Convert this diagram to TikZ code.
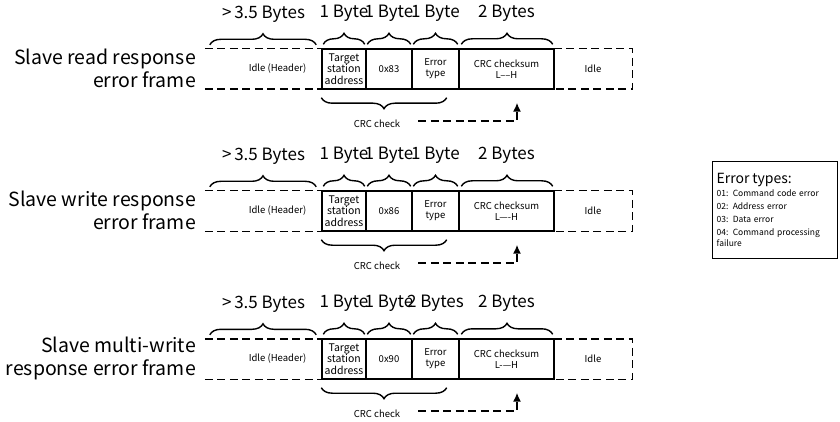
\documentclass[tikz,border=0pt]{standalone}
\usepackage{fontspec}
\setmainfont{Noto Sans CJK SC}
\usetikzlibrary{decorations.pathreplacing,arrows.meta}

\tikzset{
  field/.style={draw, line width=1.4pt, inner sep=0pt, minimum height=40pt,
    font=\fontsize{9.5}{11}\selectfont, align=center},
  idlefield/.style={inner sep=0pt, minimum height=40pt, font=\fontsize{9.5}{11}\selectfont},
  bytes/.style={font=\fontsize{17}{19}\selectfont, inner sep=0pt},
  frametitle/.style={font=\fontsize{19.5}{23}\selectfont, align=right, anchor=east, inner sep=0pt},
  topbrace/.style={decorate, decoration={brace, amplitude=11pt}, line width=1.4pt},
  crcbrace/.style={decorate, decoration={brace, amplitude=11pt}, line width=1.4pt},
  dashline/.style={line width=1.4pt, dash pattern=on 8pt off 4.5pt},
  arrowline/.style={line width=1.6pt, dash pattern=on 8pt off 4.5pt, -{Latex[length=9pt,width=8pt]}}
}

\begin{document}
\begin{tikzpicture}[x=1pt,y=-1pt]
\useasboundingbox (0,0) rectangle (840,422);

\foreach \T/\code/\errlen/\lh/\ttl [count=\i] in {
  49/0x83/1 Byte/L––H/{Slave read response\\error frame},
  191/0x86/1 Byte/L—-H/{Slave write response\\error frame},
  339/0x90/2 Bytes/L-—H/{Slave multi-write\\response error frame}}
{
\node[frametitle] (ttl\i) at (196,\T+19) {\ttl};
\node[idlefield, minimum width=117pt] (hdr\i) at (263.5,\T+20) {};
\node[idlefield] (hdrtxt\i) at ([xshift=14pt]hdr\i.center) {Idle (Header)};
\node[field, minimum width=44pt, font=\fontsize{10.5}{11.5}\selectfont] (tgt\i) at (344,\T+20) {Target\\station\\address};
\node[field, minimum width=46pt] (code\i) at (389,\T+20) {\code};
\node[field, minimum width=47pt] (err\i) at (435.5,\T+20) {Error\\type};
\node[field, minimum width=95pt] (crc\i) at (506.5,\T+20) {CRC checksum\\\lh};
\node[idlefield, minimum width=78pt] (idl\i) at (593,\T+20) {Idle};
\draw[dashline] (hdr\i.north west) -- (hdr\i.north east);
\draw[dashline] (hdr\i.south west) -- (hdr\i.south east);
\draw[dashline] (idl\i.north west) -- (idl\i.north east) -- (idl\i.south east) -- (idl\i.south west);

\draw[topbrace] ([xshift=5pt,yshift=4pt]hdr\i.north west) -- ([xshift=-6pt,yshift=4pt]hdr\i.north east);
\draw[topbrace] ([xshift=2pt,yshift=4pt]tgt\i.north west) -- ([xshift=-2pt,yshift=4pt]tgt\i.north east);
\draw[topbrace] ([xshift=2pt,yshift=4pt]code\i.north west) -- ([xshift=-2pt,yshift=4pt]code\i.north east);
\draw[topbrace] ([xshift=2pt,yshift=4pt]err\i.north west) -- ([xshift=-2pt,yshift=4pt]err\i.north east);
\draw[topbrace] ([xshift=3pt,yshift=4pt]crc\i.north west) -- ([xshift=-2pt,yshift=4pt]crc\i.north east);
\node[bytes] (b0\i) at ([yshift=35pt]hdr\i.north) {>\,3.5 Bytes};
\node[bytes] (b1\i) at ([yshift=35pt]tgt\i.north) {1 Byte};
\node[bytes] (b2\i) at ([yshift=35pt]code\i.north) {1 Byte};
\node[bytes] (b3\i) at ([yshift=35pt]err\i.north) {\errlen};
\node[bytes] (b4\i) at ([yshift=35pt]crc\i.north) {2 Bytes};

\draw[crcbrace] ([xshift=-13pt,yshift=-8pt]err\i.south east) -- ([yshift=-8pt]tgt\i.south west);
\node[idlefield, minimum height=0pt] (chk\i) at (377,\T+75) {CRC check};
\draw[arrowline] ([xshift=18pt,yshift=3pt]chk\i.east) -| ([xshift=10.5pt,yshift=-13pt]crc\i.south);
}

\node[draw, line width=1.4pt, anchor=north west, minimum width=125pt, minimum height=97pt,
  text width=117pt, align=left, inner sep=4pt, font=\fontsize{8.5}{11}\selectfont] (legend) at (712,161)
  {{\fontsize{14}{15}\selectfont Error types:}\\[2pt]
   01: Command code error\\[2pt]
   02: Address error\\[2pt]
   03: Data error\\[2pt]
   04: Command processing failure};
\end{tikzpicture}
\end{document}
